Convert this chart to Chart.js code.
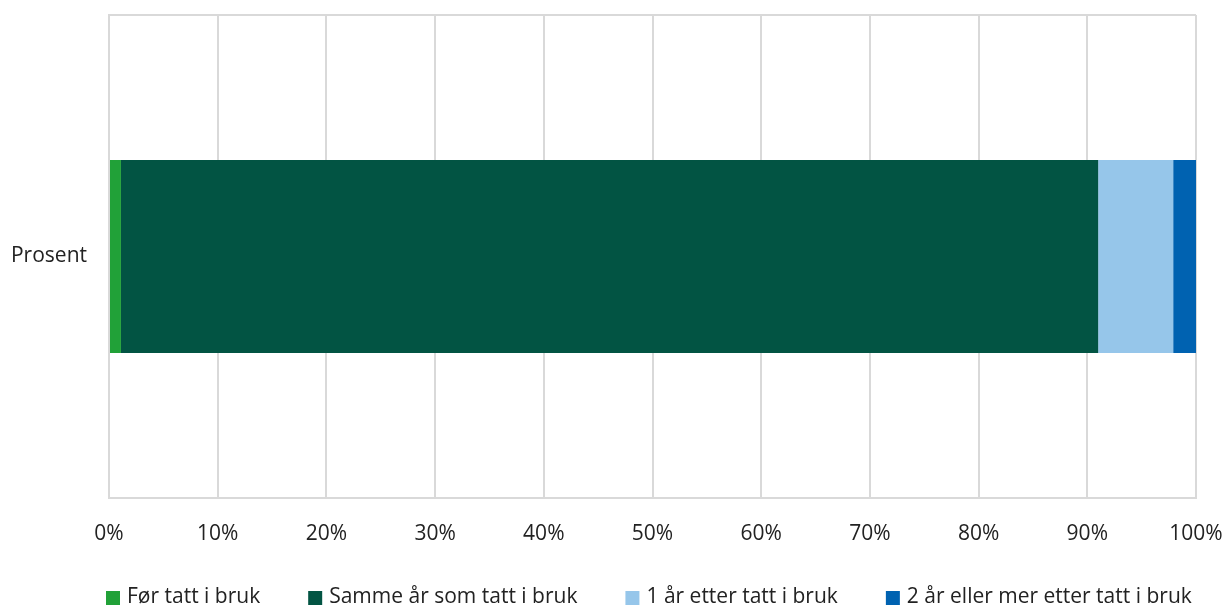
<!DOCTYPE html>
<html>
<head>
<meta charset="utf-8">
<script src="https://cdn.jsdelivr.net/npm/chart.js@4.4.1/dist/chart.umd.min.js"></script>
<style>
  html, body { margin: 0; padding: 0; background: #ffffff; }
  #wrap { width: 1223px; height: 605px; position: relative; }
</style>
</head>
<body>
<div id="wrap"><canvas id="chart"></canvas></div>
<script>
// Category on the vertical axis
const categories = ['Prosent'];

// Share of cases (%) by timing relative to when the system was put in use
const seriesLabels = [
  'Før tatt i bruk',
  'Samme år som tatt i bruk',
  '1 år etter tatt i bruk',
  '2 år eller mer etter tatt i bruk'
];
const forTattIBruk = [1.1];
const sammeAr = [89.9];
const ettAarEtter = [6.9];
const toAarEllerMer = [2.1];

// Horizontal axis ticks (percent)
const xTicks = [0, 10, 20, 30, 40, 50, 60, 70, 80, 90, 100];

const colors = ['#21a138', '#025443', '#96c6ea', '#0062b1'];
const values = [forTattIBruk, sammeAr, ettAarEtter, toAarEllerMer];

const gridColor = '#d9d9d9';
const textColor = '#222222';
const fontFamily = "'Open Sans', sans-serif";
const font = { family: fontFamily, size: 21 };

// Legend drawn in one row below the axis: square swatch, short gap, label
const rowLegend = {
  id: 'rowLegend',
  afterDraw(chart) {
    const ctx = chart.ctx;
    const box = 14, textGap = 7, itemGap = 48;
    const baseY = 597;
    let x = chart.chartArea.left - 3;
    ctx.save();
    ctx.font = `${font.size}px ${fontFamily}`;
    ctx.textBaseline = 'middle';
    ctx.textAlign = 'left';
    chart.data.datasets.forEach((ds) => {
      ctx.fillStyle = ds.backgroundColor;
      ctx.fillRect(x, baseY - 6, box, box);
      ctx.fillStyle = textColor;
      const tx = x + box + textGap;
      ctx.fillText(ds.label, tx, baseY);
      x = tx + ctx.measureText(ds.label).width + itemGap;
    });
    ctx.restore();
  }
};

new Chart(document.getElementById('chart'), {
  type: 'bar',
  data: {
    labels: categories,
    datasets: seriesLabels.map((label, i) => ({
      label,
      data: values[i],
      backgroundColor: colors[i],
      borderWidth: 0,
      barPercentage: 0.4,
      categoryPercentage: 1.0
    }))
  },
  options: {
    indexAxis: 'y',
    responsive: true,
    maintainAspectRatio: false,
    animation: false,
    layout: { autoPadding: false, padding: { top: 15, left: 0, right: 27, bottom: 0 } },
    scales: {
      x: {
        stacked: true,
        min: 0,
        max: 100,
        afterBuildTicks: (scale) => { scale.ticks = xTicks.map(v => ({ value: v })); },
        afterFit: (scale) => {
          scale.height = 107;
          scale.paddingLeft = 0;
          scale.paddingRight = 0;
        },
        ticks: {
          color: textColor,
          font,
          padding: 23,
          maxRotation: 0,
          callback: (v) => v + '%'
        },
        grid: { color: gridColor, lineWidth: 2, drawTicks: false },
        border: { color: gridColor, width: 2 }
      },
      y: {
        stacked: true,
        afterFit: (scale) => {
          scale.width = 109;
          scale.paddingTop = 0;
          scale.paddingBottom = 0;
        },
        ticks: { color: textColor, font, padding: 22 },
        grid: { color: gridColor, lineWidth: 2, drawTicks: false, offset: true },
        border: { color: gridColor, width: 2 }
      }
    },
    plugins: {
      tooltip: { enabled: false },
      legend: { display: false }
    }
  },
  plugins: [rowLegend]
});
</script>
</body>
</html>
